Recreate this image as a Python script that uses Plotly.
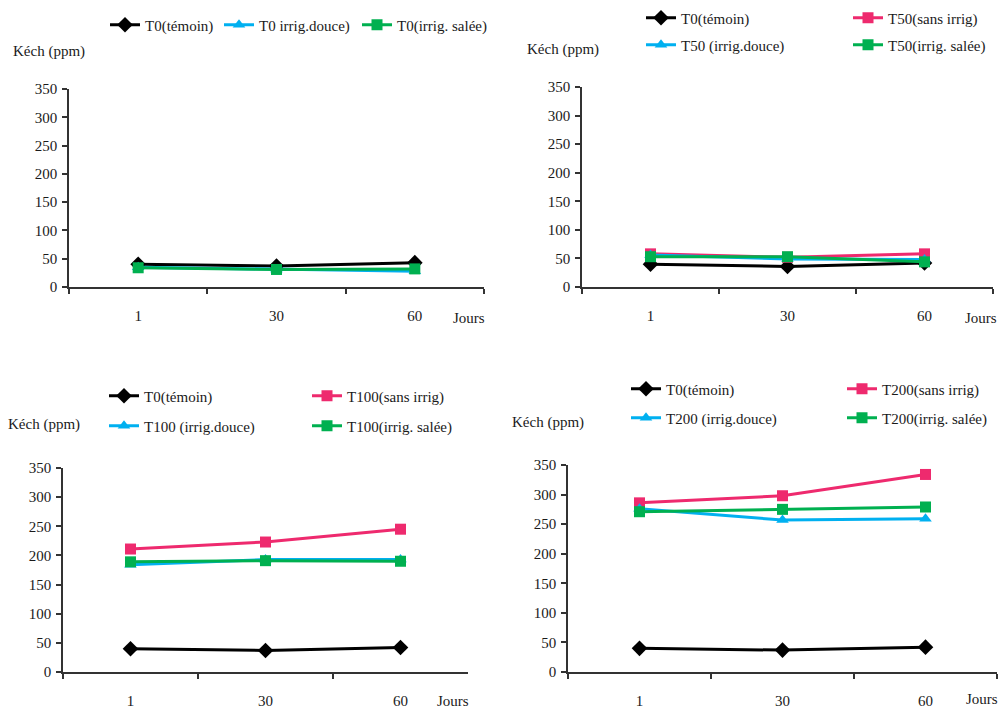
import plotly.graph_objects as go

days = ["1", "30", "60"]
y_ticks = [0, 50, 100, 150, 200, 250, 300, 350]

# Panel 1 (T0)
p1_temoin = [40, 37, 43]
p1_douce = [35, 31, 28]
p1_salee = [34, 31, 32]

# Panel 2 (T50)
p2_temoin = [40, 36, 42]
p2_sans = [58, 52, 58]
p2_douce = [56, 49, 48]
p2_salee = [53, 53, 44]

# Panel 3 (T100)
p3_temoin = [40, 37, 42]
p3_sans = [211, 223, 245]
p3_douce = [184, 193, 193]
p3_salee = [189, 191, 190]

# Panel 4 (T200)
p4_temoin = [40, 37, 42]
p4_sans = [286, 298, 334]
p4_douce = [276, 257, 259]
p4_salee = [271, 275, 279]

BLACK = "#000000"
PINK = "#EE2A6E"
CYAN = "#00B0F0"
GREEN = "#00B050"
FONT = "Liberation Serif, Times New Roman, serif"
W, H = 999, 711

fig = go.Figure()
layout_legends = {}
leg_count = [0]

def leg(x, y):
    d = dict(x=x / W, y=1 - y / H, xanchor="left", yanchor="middle",
             orientation="h", bgcolor="rgba(0,0,0,0)", visible=True,
             font=dict(family=FONT, size=15, color="#1a1a1a"),
             itemwidth=30)
    return d

def add(x_ax, y_ax, vals, name, color, symbol, size, lx, ly):
    leg_count[0] += 1
    key = "legend" if leg_count[0] == 1 else "legend%d" % leg_count[0]
    layout_legends[key] = leg(lx, ly)
    fig.add_trace(go.Scatter(
        x=days, y=vals, name=name, mode="lines+markers",
        line=dict(color=color, width=3),
        marker=dict(symbol=symbol, size=size, color=color),
        xaxis=x_ax, yaxis=y_ax, legend=key, showlegend=True))

# panel 1
add("x", "y", p1_temoin, "T0(témoin)", BLACK, "diamond", 12, 105, 25)
add("x", "y", p1_douce, "T0 irrig.douce)", CYAN, "triangle-up", 11, 219, 25)
add("x", "y", p1_salee, "T0(irrig. salée)", GREEN, "square", 11, 357, 25)
# panel 2
add("x2", "y2", p2_temoin, "T0(témoin)", BLACK, "diamond", 12, 641, 18)
add("x2", "y2", p2_sans, "T50(sans irrig)", PINK, "square", 11, 848, 18)
add("x2", "y2", p2_douce, "T50 (irrig.douce)", CYAN, "triangle-up", 11, 641, 45)
add("x2", "y2", p2_salee, "T50(irrig. salée)", GREEN, "square", 11, 848, 45)
# panel 3
add("x3", "y3", p3_temoin, "T0(témoin)", BLACK, "diamond", 12, 104, 396)
add("x3", "y3", p3_sans, "T100(sans irrig)", PINK, "square", 11, 307, 396)
add("x3", "y3", p3_douce, "T100 (irrig.douce)", CYAN, "triangle-up", 11, 104, 426)
add("x3", "y3", p3_salee, "T100(irrig. salée)", GREEN, "square", 11, 307, 426)
# panel 4
add("x4", "y4", p4_temoin, "T0(témoin)", BLACK, "diamond", 12, 626, 389)
add("x4", "y4", p4_sans, "T200(sans irrig)", PINK, "square", 11, 842, 389)
add("x4", "y4", p4_douce, "T200 (irrig.douce)", CYAN, "triangle-up", 11, 626, 418)
add("x4", "y4", p4_salee, "T200(irrig. salée)", GREEN, "square", 11, 842, 418)

tfont = dict(family=FONT, size=15, color="#1a1a1a")
axcol = "#333333"

panels = {
    # name: (x0, x1, ytop, ybottom) in pixels
    "1": (69, 484, 89, 287),
    "2": (582, 993, 87, 287),
    "3": (63, 468, 468, 672),
    "4": (568, 997, 465, 672),
}

layout = dict(width=W, height=H, margin=dict(l=0, r=0, t=0, b=0),
              plot_bgcolor="white", paper_bgcolor="white", showlegend=True,
              font=dict(family=FONT, size=15, color="#1a1a1a"))
annotations = []
for k, (x0, x1, yt, yb) in panels.items():
    sfx = "" if k == "1" else k
    layout["xaxis" + sfx] = dict(
        domain=[x0 / W, x1 / W], anchor="y" + sfx, type="category",
        range=[-0.5, 2.5], tickson="boundaries", ticks="outside", ticklen=5,
        tickwidth=1.5, tickcolor=axcol, showline=True, linecolor=axcol,
        linewidth=1.5, showgrid=False, zeroline=False, tickfont=tfont,
        ticklabelstandoff=14, fixedrange=True, automargin=False)
    layout["yaxis" + sfx] = dict(
        domain=[1 - yb / H, 1 - yt / H], anchor="x" + sfx, range=[0, 350],
        tickvals=y_ticks, ticks="outside", ticklen=5, tickwidth=1.5,
        tickcolor=axcol, showline=True, linecolor=axcol, linewidth=1.5,
        showgrid=False, zeroline=False, tickfont=tfont, ticklabelstandoff=2,
        fixedrange=True, automargin=False)

def ann(x, y, text, xanchor="left"):
    annotations.append(dict(x=x / W, y=1 - y / H, xref="paper", yref="paper",
                            text=text, showarrow=False, xanchor=xanchor,
                            yanchor="middle", font=tfont))

ann(11, 51, "Kéch (ppm)")
ann(525, 50, "Kéch (ppm)")
ann(6, 424, "Kéch (ppm)")
ann(510, 422, "Kéch (ppm)")
ann(451, 318, "Jours")
ann(963, 318, "Jours")
ann(435, 701, "Jours")
ann(964, 699, "Jours")
layout["annotations"] = annotations
layout.update(layout_legends)

fig.update_layout(**layout)
fig.write_html("out.html")
